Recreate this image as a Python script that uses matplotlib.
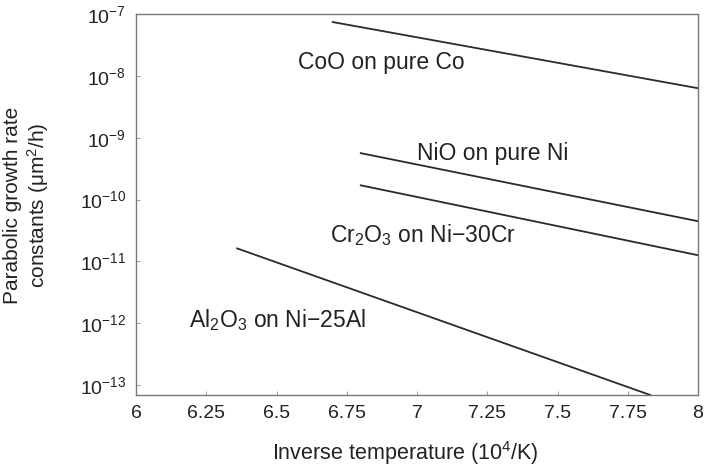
import numpy as np
import matplotlib
matplotlib.use('Agg')
import matplotlib.pyplot as plt

plt.rcParams['font.family'] = ['Liberation Sans', 'DejaVu Sans']
plt.rcParams['mathtext.fontset'] = 'custom'
plt.rcParams['mathtext.rm'] = 'Liberation Sans'
plt.rcParams['mathtext.it'] = 'Liberation Sans:italic'
plt.rcParams['mathtext.default'] = 'regular'

# oxide growth lines: (x start, x end), (log10 k start, log10 k end)
coo_x = [6.70, 8.0]
coo_logk = [-7.13, -8.20]
nio_x = [6.80, 8.0]
nio_logk = [-9.25, -10.35]
cr2o3_x = [6.80, 8.0]
cr2o3_logk = [-9.77, -10.90]
al2o3_x = [6.36, 7.83]
al2o3_logk = [-10.79, -13.16]

labels = ['CoO on pure Co', 'NiO on pure Ni',
          'Cr$_2$O$_3$ on Ni\u221230Cr', 'Al$_2$O$_3$ on Ni\u221225Al']
label_x = [6.575, 7.0, 6.69, 6.19]
label_logk = [-7.78, -9.25, -10.58, -11.95]

xticks = [6, 6.25, 6.5, 6.75, 7, 7.25, 7.5, 7.75, 8]
xticklabels = ['6', '6.25', '6.5', '6.75', '7', '7.25', '7.5', '7.75', '8']

fig = plt.figure(figsize=(7.07, 4.69), dpi=100)
ax = fig.add_axes([136 / 707, 1 - 395 / 469, 562 / 707, 381 / 469])

lc = '#2a2a2a'
for xs, ls in [(coo_x, coo_logk), (nio_x, nio_logk),
               (cr2o3_x, cr2o3_logk), (al2o3_x, al2o3_logk)]:
    ax.plot(xs, 10 ** np.array(ls), color=lc, lw=1.3)

for t, x, l in zip(labels, label_x, label_logk):
    ax.text(x, 10 ** l, t, fontsize=16.5, va='center', ha='left', color='#222222')

ax.set_yscale('log')
ax.set_xlim(6, 8)
ax.set_ylim(10 ** -13.16, 1e-7)
ax.set_yticks([1e-13, 1e-12, 1e-11, 1e-10, 1e-9, 1e-8, 1e-7])
ax.yaxis.set_minor_locator(matplotlib.ticker.NullLocator())
ax.set_xticks(xticks)
ax.set_xticklabels(xticklabels)
ax.tick_params(direction='in', length=3, width=0.6, colors='#888888',
               labelcolor='#222222', labelsize=14, pad=7)
for s in ax.spines.values():
    s.set_color('#777777')
    s.set_linewidth(1.0)

fig.text(405 / 707, 1 - 453 / 469, 'Inverse temperature (10$^4$/K)',
         fontsize=15.5, color='#222222', ha='center', va='center')
fig.text(27 / 707, 1 - 205 / 469,
         'Parabolic growth rate\nconstants ($\\mu$m$^2$/h)', fontsize=15,
         color='#222222', rotation=90, ha='center', va='center',
         multialignment='center', linespacing=1.15)

fig.savefig('out.png', dpi=100)
